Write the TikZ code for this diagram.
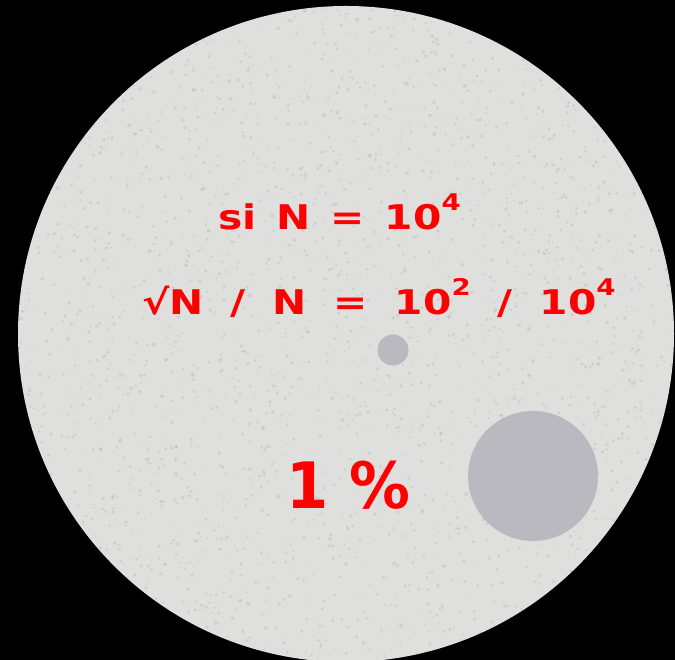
\documentclass[tikz,border=0pt]{standalone}
\usepackage{fontspec}
\newfontfamily\eqfont{DejaVu Sans}[FakeStretch=1.2]
\newfontfamily\pctfont{DejaVu Sans}[FakeStretch=0.95]
\usetikzlibrary{positioning}
\definecolor{discgray}{RGB}{223,223,221}
\definecolor{specklegray}{RGB}{170,170,168}
\definecolor{spotgray}{RGB}{186,185,191}
\definecolor{eqred}{RGB}{255,0,0}
% raised exponent digits and gaps between terms
\newcommand{\pow}[1]{\raisebox{19pt}{\fontsize{23}{23}\selectfont #1}}
\newcommand{\eqgap}{\hspace{20pt}}
\newcommand{\widegap}{\hspace{27pt}}

\begin{document}
\begin{tikzpicture}[x=1pt, y=1pt,
  eqlabel/.style={text=eqred, inner sep=0pt, anchor=base west,
    font=\eqfont\bfseries\fontsize{34}{40}\selectfont},
  biglabel/.style={eqlabel, font=\pctfont\bfseries\fontsize{64}{70}\selectfont},
  spot/.style={circle, fill=spotgray, inner sep=0pt}
]
  \useasboundingbox (0,0) rectangle (675,660);
  \fill[black] (0,0) rectangle (675,660);
  \clip (0,0) rectangle (675,660);

  % the disc
  \node[circle, fill=discgray, minimum size=656pt, inner sep=0pt] (disc) at (346,326) {};

  % grainy surface
  \begin{scope}
    \clip (disc.center) circle (328);
    \pgfmathsetseed{4711}
    \foreach \k in {1,...,3000}{
      \pgfmathsetmacro{\px}{18+rnd*656}
      \pgfmathsetmacro{\py}{rnd*660}
      \pgfmathsetmacro{\pr}{0.6+rnd*1.4}
      \fill[specklegray, opacity=0.3] (\px,\py) circle (\pr);
    }
  \end{scope}

  % spots
  \node[spot, minimum size=31pt] (small) at (393,310) {};
  \node[spot, minimum size=130pt] (large) at (533,184) {};

  % labels
  \node[eqlabel] (si) at (218,430) {si\eqgap N\eqgap =\eqgap 10\pow{4}};
  \node[eqlabel] (ratio) at (142,345)
    {√N\widegap /\widegap N\widegap =\widegap 10\pow{2}\widegap /\widegap 10\pow{4}};
  \node[biglabel] (pct) at (286,151) {1 \%};
\end{tikzpicture}
\end{document}
